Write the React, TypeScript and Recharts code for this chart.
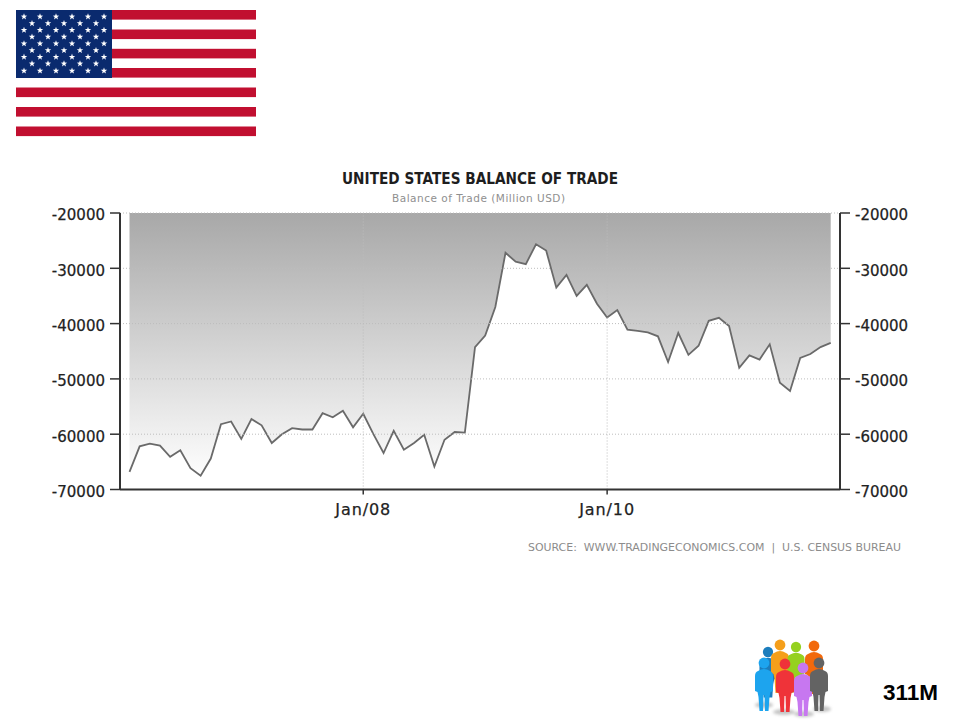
import {
  Area,
  ComposedChart,
  Line,
  ReferenceLine,
  XAxis,
  YAxis,
} from 'recharts';

const months = [
  'Feb/06', 'Mar/06', 'Apr/06', 'May/06', 'Jun/06', 'Jul/06', 'Aug/06', 'Sep/06', 'Oct/06', 'Nov/06', 'Dec/06',
  'Jan/07', 'Feb/07', 'Mar/07', 'Apr/07', 'May/07', 'Jun/07', 'Jul/07', 'Aug/07', 'Sep/07', 'Oct/07', 'Nov/07', 'Dec/07',
  'Jan/08', 'Feb/08', 'Mar/08', 'Apr/08', 'May/08', 'Jun/08', 'Jul/08', 'Aug/08', 'Sep/08', 'Oct/08', 'Nov/08', 'Dec/08',
  'Jan/09', 'Feb/09', 'Mar/09', 'Apr/09', 'May/09', 'Jun/09', 'Jul/09', 'Aug/09', 'Sep/09', 'Oct/09', 'Nov/09', 'Dec/09',
  'Jan/10', 'Feb/10', 'Mar/10', 'Apr/10', 'May/10', 'Jun/10', 'Jul/10', 'Aug/10', 'Sep/10', 'Oct/10', 'Nov/10', 'Dec/10',
  'Jan/11', 'Feb/11', 'Mar/11', 'Apr/11', 'May/11', 'Jun/11', 'Jul/11', 'Aug/11', 'Sep/11', 'Oct/11', 'Nov/11',
];

const balance = [
  -66800, -62200, -61700, -62050, -64100, -62900, -66150, -67500, -64400, -58200, -57700,
  -60850, -57250, -58400, -61600, -60000, -58900, -59150, -59150, -56200, -56950, -55750, -58750,
  -56300, -60000, -63400, -59400, -62800, -61600, -60100, -65850, -61000, -59600, -59700, -44250,
  -42150, -37000, -27200, -28800, -29250, -25650, -26800, -33500, -31200, -35000, -33000, -36400,
  -38900, -37550, -41100, -41300, -41600, -42300, -46950, -41700, -45650, -44000, -39500, -38950, -40450,
  -48000, -45750, -46500, -43750, -50700, -52200, -46200, -45500, -44250, -43500,
];

const yTicks = [-20000, -30000, -40000, -50000, -60000, -70000];
const xTicks = ['Jan/08', 'Jan/10'];

const tableData = months.map((month, i) => ({ month, value: balance[i] }));

const AXIS = '#333333';
const tickFont = {
  fill: '#222222',
  fontSize: 15,
  fontFamily: 'DejaVu Sans',
  stroke: '#222222',
  strokeWidth: 0.25,
  dy: 2,
};
const xTickFont = { ...tickFont, fontSize: 16, letterSpacing: 0.9, dy: 3 };

function starPoints(cx: number, cy: number, r: number) {
  const pts: string[] = [];
  for (let i = 0; i < 10; i++) {
    const a = -Math.PI / 2 + (i * Math.PI) / 5;
    const rad = i % 2 === 0 ? r : r * 0.4;
    pts.push(`${cx + rad * Math.cos(a)},${cy + rad * Math.sin(a)}`);
  }
  return pts.join(' ');
}

function Flag() {
  const rows = [16.7, 23.4, 30.1, 36.8, 43.6, 50.3, 57, 63.7, 70.8];
  const long = [24, 40, 56, 72, 88, 104];
  const short = [32, 48, 64, 80, 96];
  const stripes = [10, 29.5, 48.8, 68, 87.5, 107, 126.5];
  return (
    <g>
      {stripes.map((y) => (
        <rect key={y} x={16} y={y} width={240} height={9.6} fill="#c10f30" />
      ))}
      <rect x={16} y={10} width={96} height={68} fill="#0a2a6e" />
      {rows.map((y, r) =>
        (r % 2 === 0 ? long : short).map((x) => (
          <polygon key={`${x}-${y}`} points={starPoints(x, y, 3.4)} fill="#ffffff" />
        )),
      )}
    </g>
  );
}

function Person({ x, y, s, color }: { x: number; y: number; s: number; color: string }) {
  // x,y is the centre of the head
  const d = `M ${x - 6 * s} ${y + 8 * s}
    Q ${x} ${y + 4 * s} ${x + 6 * s} ${y + 8 * s}
    Q ${x + 9 * s} ${y + 9 * s} ${x + 9 * s} ${y + 13 * s}
    L ${x + 9 * s} ${y + 28 * s} L ${x + 6.5 * s} ${y + 29 * s} L ${x + 5.5 * s} ${y + 34 * s}
    L ${x + 4.5 * s} ${y + 48 * s} L ${x + 1 * s} ${y + 48 * s} L ${x + 0.5 * s} ${y + 32 * s}
    L ${x - 0.5 * s} ${y + 32 * s} L ${x - 1 * s} ${y + 48 * s} L ${x - 4.5 * s} ${y + 48 * s}
    L ${x - 5.5 * s} ${y + 34 * s} L ${x - 6.5 * s} ${y + 29 * s} L ${x - 9 * s} ${y + 28 * s}
    L ${x - 9 * s} ${y + 13 * s} Q ${x - 9 * s} ${y + 9 * s} ${x - 6 * s} ${y + 8 * s} Z`;
  return (
    <g>
      <circle cx={x} cy={y} r={5.4 * s} fill={color} />
      <path d={d} fill={color} />
    </g>
  );
}

function People() {
  return (
    <g>
      <defs>
        <filter id="soft" x="-30%" y="-100%" width="160%" height="300%">
          <feGaussianBlur stdDeviation="1.6" />
        </filter>
      </defs>
      <g fill="#c4c4c4" filter="url(#soft)">
        <ellipse cx={764} cy={705} rx={9} ry={3} />
        <ellipse cx={784} cy={712} rx={11} ry={3} />
        <ellipse cx={804} cy={714} rx={10} ry={3} />
        <ellipse cx={822} cy={709} rx={9} ry={3} />
      </g>
      <Person x={768} y={652} s={0.95} color="#1b7dbd" />
      <Person x={780} y={645} s={1} color="#f59f1b" />
      <Person x={796} y={647} s={0.95} color="#95d11f" />
      <Person x={814} y={646} s={1} color="#f2690c" />
      <Person x={764} y={663} s={1} color="#1da4ee" />
      <Person x={785} y={664} s={1} color="#ef3339" />
      <Person x={803} y={668} s={1} color="#c777f0" />
      <Person x={819} y={663} s={1} color="#636363" />
    </g>
  );
}

export default function App() {
  return (
    <div style={{ position: 'absolute', left: 0, top: 0, width: 960, height: 720, background: '#fff' }}>
      <div style={{ position: 'absolute', left: 0, top: 0 }}>
        <ComposedChart
          width={960}
          height={720}
          data={tableData}
          margin={{ top: 213, right: 0, bottom: 200, left: 0 }}
        >
          <defs>
            <linearGradient id="shade" gradientUnits="userSpaceOnUse" x1="0" y1="213" x2="0" y2="480">
              <stop offset="0%" stopColor="#a8a8a8" />
              <stop offset="100%" stopColor="#ffffff" />
            </linearGradient>
          </defs>
          <XAxis
            dataKey="month"
            scale="point"
            xAxisId="x"
            ticks={xTicks}
            interval={0}
            height={30.5}
            padding={{ left: 9.5, right: 9.3 }}
            tickSize={5}
            tickMargin={6}
            axisLine={{ stroke: AXIS, strokeWidth: 2 }}
            tickLine={{ stroke: AXIS, strokeWidth: 1.5 }}
            tick={xTickFont}
          />
          <YAxis
            yAxisId="left"
            orientation="left"
            width={120}
            type="number"
            domain={[-70000, -20000]}
            ticks={yTicks}
            interval={0}
            tickSize={10}
            tickMargin={5}
            axisLine={{ stroke: AXIS, strokeWidth: 2 }}
            tickLine={{ stroke: AXIS, strokeWidth: 1.5 }}
            tick={tickFont}
          />
          <YAxis
            yAxisId="right"
            orientation="right"
            width={120}
            type="number"
            domain={[-70000, -20000]}
            ticks={yTicks}
            interval={0}
            tickSize={10}
            tickMargin={5}
            axisLine={{ stroke: AXIS, strokeWidth: 2 }}
            tickLine={{ stroke: AXIS, strokeWidth: 1.5 }}
            tick={tickFont}
          />
          <Area
            xAxisId="x"
            yAxisId="left"
            type="linear"
            dataKey="value"
            baseValue={-20000}
            stroke="#6a6a6a"
            strokeWidth={1.8}
            fill="url(#shade)"
            fillOpacity={1}
            dot={false}
            activeDot={false}
            isAnimationActive={false}
          />
          {/* keeps the right axis alive, it draws nothing */}
          <Line
            xAxisId="x"
            yAxisId="right"
            type="linear"
            dataKey="value"
            stroke="none"
            dot={false}
            activeDot={false}
            legendType="none"
            isAnimationActive={false}
          />
          {yTicks.slice(0, 5).map((t) => (
            <ReferenceLine
              key={t}
              xAxisId="x"
              yAxisId="left"
              y={t}
              stroke="#bdbdbd"
              strokeDasharray="1 2"
              strokeWidth={1}
            />
          ))}
          {xTicks.map((t) => (
            <ReferenceLine
              key={t}
              xAxisId="x"
              yAxisId="left"
              x={t}
              stroke="#bdbdbd"
              strokeDasharray="1 2"
              strokeWidth={1}
            />
          ))}
        </ComposedChart>
      </div>
      <svg width={960} height={720} style={{ position: 'absolute', left: 0, top: 0, pointerEvents: 'none' }}>
        <Flag />
        <text
          x={342}
          y={184}
          fontFamily="DejaVu Sans"
          fontWeight="bold"
          fontSize={16.5}
          fill="#1e1e1e"
          textLength={276}
          lengthAdjust="spacingAndGlyphs"
        >
          UNITED STATES BALANCE OF TRADE
        </text>
        <text
          x={392}
          y={202}
          fontFamily="DejaVu Sans"
          fontSize={10.5}
          fill="#8f8f8f"
          textLength={173}
          lengthAdjust="spacing"
        >
          Balance of Trade (Million USD)
        </text>
        <text
          x={528}
          y={551}
          fontFamily="DejaVu Sans"
          fontSize={10.5}
          fill="#8c8c8c"
          textLength={373}
          lengthAdjust="spacingAndGlyphs"
          style={{ whiteSpace: 'pre' }}
        >
          SOURCE:  WWW.TRADINGECONOMICS.COM  |  U.S. CENSUS BUREAU
        </text>
        <People />
        <text x={883} y={699.5} fontFamily="Liberation Sans" fontWeight="bold" fontSize={22.5} fill="#000000">
          311M
        </text>
      </svg>
    </div>
  );
}
